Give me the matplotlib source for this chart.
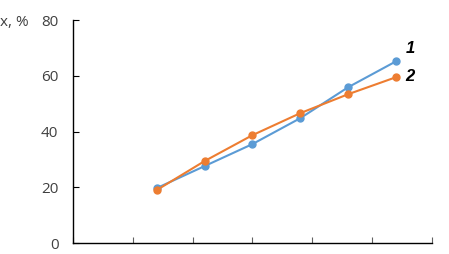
import matplotlib.pyplot as plt

# data
x_pos = [7, 11, 15, 19, 23, 27]
series_1 = [19.7, 27.6, 35.5, 44.8, 55.9, 65.2]
series_2 = [19.0, 29.4, 38.7, 46.6, 53.4, 59.5]
y_ticks = [0, 20, 40, 60, 80]
x_ticks = [0, 5, 10, 15, 20, 25, 30]

BLUE = "#5b9bd5"
ORANGE = "#ed7d31"
TEXT = "#404040"

plt.rcParams['font.family'] = ['Open Sans', 'DejaVu Sans']

fig = plt.figure(figsize=(4.49, 2.54), dpi=100)
ax = fig.add_axes([0.1626, 0.0433, 0.7994, 0.8777])

ax.plot(x_pos, series_1, color=BLUE, lw=1.5, marker="o", ms=5, zorder=3)
ax.plot(x_pos, series_2, color=ORANGE, lw=1.5, marker="o", ms=5, zorder=4)

ax.set_xlim(0, 30)
ax.set_ylim(0, 80)
ax.set_xticks(x_ticks)
ax.set_xticklabels([])
ax.set_yticks(y_ticks)
ax.tick_params(axis="x", direction="in", length=4, width=0.8, color="#606060")
ax.tick_params(axis="y", direction="in", length=4, width=0.8, pad=10.5,
               labelsize=11, labelcolor=TEXT)

for side in ("top", "right"):
    ax.spines[side].set_visible(False)
for side in ("left", "bottom"):
    ax.spines[side].set_color("black")
    ax.spines[side].set_linewidth(1.0)

# series labels
ax.text(27.8, 69.8, "1", fontsize=12, fontweight="bold", fontstyle="italic",
        family="Liberation Sans", va="center", ha="left")
ax.text(27.8, 59.7, "2", fontsize=12, fontweight="bold", fontstyle="italic",
        family="Liberation Sans", va="center", ha="left")

fig.text(0.0, 0.913, "x, %", fontsize=11, color=TEXT, va="center", ha="left")

fig.savefig("out.png", dpi=100)
